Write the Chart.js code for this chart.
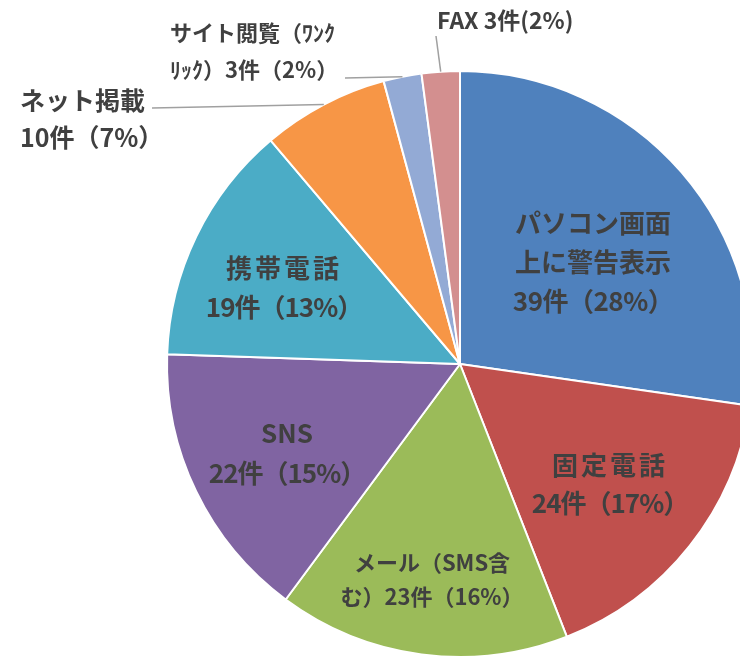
<!DOCTYPE html>
<html>
<head>
<meta charset="utf-8">
<script src="https://cdn.jsdelivr.net/npm/chart.js@4/dist/chart.umd.min.js"></script>
<style>
  html, body { margin: 0; padding: 0; background: #fff; overflow: hidden; width: 740px; height: 661px; }
  #wrap { position: absolute; left: 0; top: 0; width: 920px; height: 728px; }
</style>
</head>
<body>
<div id="wrap"><canvas id="c" width="920" height="728"></canvas></div>
<script>
// ---- data ----
const categories = ['パソコン画面上に警告表示', '固定電話', 'メール（SMS含む）', 'SNS', '携帯電話', 'ネット掲載', 'サイト閲覧（ワンクリック）', 'FAX'];
const counts = [39, 24, 23, 22, 19, 10, 3, 3];
const percents = [28, 17, 16, 15, 13, 7, 2, 2];
const labelLines = [
  ['パソコン画面', '上に警告表示', '39件（28%）'],
  ['固定電話', '24件（17%）'],
  ['メール（SMS含', 'む）23件（16%）'],
  ['SNS', '22件（15%）'],
  ['携帯電話', '19件（13%）'],
  ['ネット掲載', '10件（7%）'],
  ['サイト閲覧（ﾜﾝｸ', 'ﾘｯｸ）3件（2%）'],
  ['FAX 3件(2%)']
];
const colors = ['#4F81BD', '#C0504D', '#9BBB59', '#8064A2', '#4BACC6', '#F79646', '#93AAD5', '#D38F8F'];

// ---- label layout (relative to pie centre, px) ----
const FONT = '"Noto Sans CJK JP", "Noto Sans", sans-serif';
const labelStyle = [
  { type: 'in', dx: 133, dy: -102, size: 26, lh: 39, ls: [0, 0, -0.5] },
  { type: 'in', dx: 150, dy: 120, size: 26, lh: 38, ls: [3, -1] },
  { type: 'in', dx: -28, dy: 216, size: 22, lh: 34, ls: [0, 0] },
  { type: 'in', dx: -173, dy: 89, size: 26, lh: 40, ls: [0, -1] },
  { type: 'in', dx: -176, dy: -76, size: 26, lh: 39, ls: [3, -1] },
  { type: 'out', tx: -440, ty: -264, size: 25, lh: 37, lx: -308, ly: -256 },
  { type: 'out', tx: -290, ty: -331, size: 22, lh: 37, lx: -115, ly: -286 },
  { type: 'out', tx: -23, ty: -344, size: 23, lh: 37, lx: -24, ly: -328 }
];

const labelPlugin = {
  id: 'pieLabels',
  afterDatasetsDraw(chart) {
    const ctx = chart.ctx;
    const meta = chart.getDatasetMeta(0);
    meta.data.forEach((arc, i) => {
      const st = labelStyle[i];
      const cx = arc.x, cy = arc.y;
      const lines = labelLines[i];
      ctx.save();
      ctx.fillStyle = '#404040';
      ctx.font = 'bold ' + st.size + 'px ' + FONT;
      ctx.textBaseline = 'middle';
      if (st.type === 'in') {
        ctx.textAlign = 'center';
        const n = lines.length;
        lines.forEach((t, k) => {
          ctx.letterSpacing = ((st.ls && st.ls[k]) || 0) + 'px';
          const y = cy + st.dy + (k - (n - 1) / 2) * st.lh;
          ctx.fillText(t, cx + st.dx, y);
        });
      } else {
        ctx.textAlign = 'left';
        lines.forEach((t, k) => {
          ctx.fillText(t, cx + st.tx, cy + st.ty + k * st.lh);
        });
        // leader line to the middle of the arc edge
        const mid = (arc.startAngle + arc.endAngle) / 2;
        const ex = cx + Math.cos(mid) * arc.outerRadius;
        const ey = cy + Math.sin(mid) * arc.outerRadius;
        ctx.strokeStyle = '#A0A0A0';
        ctx.lineWidth = 1.5;
        ctx.beginPath();
        ctx.moveTo(cx + st.lx, cy + st.ly);
        ctx.lineTo(ex, ey);
        ctx.stroke();
      }
      ctx.restore();
    });
  }
};

new Chart(document.getElementById('c'), {
  type: 'pie',
  data: {
    labels: categories,
    datasets: [{
      data: counts,
      backgroundColor: colors,
      borderColor: '#FFFFFF',
      borderWidth: 2
    }]
  },
  options: {
    responsive: false,
    animation: false,
    layout: { padding: { top: 70, bottom: 70, left: 0, right: 0 } },
    plugins: {
      legend: { display: false },
      tooltip: { enabled: false },
      title: { display: false }
    }
  },
  plugins: [labelPlugin]
});
</script>
</body>
</html>
